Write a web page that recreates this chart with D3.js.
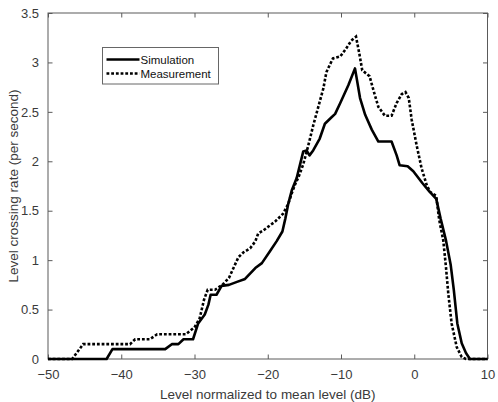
<!DOCTYPE html>
<html>
<head>
<meta charset="utf-8">
<script src="https://cdn.jsdelivr.net/npm/d3@7"></script>
<style>
  html, body { margin: 0; padding: 0; background: #fff; }
  svg { display: block; font-family: "Liberation Sans", Arial, sans-serif; }
</style>
</head>
<body>
<svg id="chart" width="498" height="402"></svg>
<script>
// Level (dB, normalized to mean) and crossing rate (per second)
const simLevel = [-50, -42, -41.2, -34, -33.1, -32.2, -31.5, -30.2, -29.5, -29.0, -28.6, -28.1, -27.8, -27.0,
  -26.3, -25.3, -24.2, -23.1, -21.7, -20.8, -19.7, -18.8, -18.0, -17.6, -17.2, -16.7, -16.05, -15.15, -14.7,
  -14.3, -13.8, -12.9, -12.2, -11.5, -10.8, -10.1, -9.0, -8.09, -7.4, -6.7, -5.8, -4.9, -3.1, -2.4, -2.0,
  -0.9, -0.13, 1.1, 2.0, 3.0, 3.6, 4.33, 4.98, 5.4, 5.88, 6.48, 7.06, 7.6, 10];
const simRate = [0, 0, 0.1, 0.1, 0.15, 0.15, 0.2, 0.2, 0.36, 0.41, 0.45, 0.55, 0.65, 0.65,
  0.74, 0.75, 0.78, 0.81, 0.92, 0.97, 1.09, 1.19, 1.29, 1.42, 1.57, 1.71, 1.83, 2.10, 2.11,
  2.06, 2.11, 2.23, 2.38, 2.43, 2.48, 2.59, 2.77, 2.94, 2.64, 2.47, 2.32, 2.2, 2.2, 2.06, 1.96,
  1.95, 1.9, 1.78, 1.70, 1.62, 1.42, 1.2, 0.95, 0.70, 0.36, 0.16, 0.06, 0, 0];

const measLevel = [-50, -46.7, -45.2, -38.8, -38.1, -36.1, -35.1, -31.2, -30.0, -29.3, -28.7, -28.2, -27.2,
  -26.2, -25.3, -24.5, -24.0, -23.3, -22.4, -21.7, -21.3, -20.6, -19.9, -19.0, -17.9, -17.2, -16.7, -16.3,
  -15.8, -15.15, -14.5, -13.8, -13.1, -12.4, -12.0, -11.5, -11.1, -10.1, -9.3, -8.6, -7.95, -7.5, -7.1,
  -6.1, -5.5, -4.9, -4.0, -3.1, -2.4, -1.7, -1.2, -0.75, -0.35, 0.33, 1.0, 1.7, 2.15, 3.0, 3.4, 3.96,
  4.33, 4.65, 5.1, 5.8, 6.48, 7.06, 10];
const measRate = [0, 0, 0.15, 0.15, 0.2, 0.2, 0.25, 0.25, 0.32, 0.41, 0.6, 0.70, 0.70,
  0.75, 0.82, 0.95, 1.03, 1.08, 1.12, 1.19, 1.27, 1.30, 1.34, 1.39, 1.47, 1.57, 1.68, 1.76,
  1.84, 1.97, 2.15, 2.36, 2.55, 2.74, 2.90, 2.98, 3.04, 3.06, 3.14, 3.22, 3.26, 3.09, 2.92,
  2.86, 2.70, 2.55, 2.46, 2.46, 2.59, 2.68, 2.70, 2.64, 2.42, 2.16, 1.93, 1.76, 1.69, 1.65, 1.41, 1.2,
  0.93, 0.66, 0.36, 0.12, 0.02, 0, 0];

const xTicks = [-50, -40, -30, -20, -10, 0, 10];
const yTicks = [0, 0.5, 1, 1.5, 2, 2.5, 3, 3.5];
const seriesNames = ["Simulation", "Measurement"];

const W = 498, H = 402;
const margin = { left: 48, right: 10.5, top: 13, bottom: 43 };
const svg = d3.select("#chart");

const x = d3.scaleLinear().domain([-50, 10]).range([margin.left, W - margin.right]);
const y = d3.scaleLinear().domain([0, 3.5]).range([H - margin.bottom, margin.top]);

const axisColor = "#5a5a5a";
const textColor = "#3a3a3a";
const tickLen = 4.5;

// axes: ticks point inward on all four sides
function styleAxis(g) {
  g.select(".domain").remove();
  g.selectAll(".tick line").attr("stroke", axisColor);
  g.selectAll(".tick text").attr("fill", textColor).style("font-size", "13px");
}
svg.append("g").attr("transform", `translate(0,${y(0)})`)
  .call(d3.axisBottom(x).tickValues(xTicks).tickSizeInner(-tickLen).tickSizeOuter(0).tickPadding(11).tickFormat(d3.format("d")))
  .call(styleAxis);
svg.append("g").attr("transform", `translate(0,${y(3.5)})`)
  .call(d3.axisTop(x).tickValues(xTicks).tickSizeInner(-tickLen).tickSizeOuter(0).tickFormat(""))
  .call(styleAxis);
svg.append("g").attr("transform", `translate(${x(-50)},0)`)
  .call(d3.axisLeft(y).tickValues(yTicks).tickSizeInner(-tickLen).tickSizeOuter(0).tickPadding(9).tickFormat(d => String(d)))
  .call(styleAxis);
svg.append("g").attr("transform", `translate(${x(10)},0)`)
  .call(d3.axisRight(y).tickValues(yTicks).tickSizeInner(-tickLen).tickSizeOuter(0).tickFormat(""))
  .call(styleAxis);

// plot box
svg.append("rect")
  .attr("x", x(-50)).attr("y", y(3.5))
  .attr("width", x(10) - x(-50)).attr("height", y(0) - y(3.5))
  .attr("fill", "none").attr("stroke", axisColor).attr("stroke-width", 1);

// axis titles
svg.append("text")
  .attr("x", (x(-50) + x(10)) / 2).attr("y", 399)
  .attr("text-anchor", "middle").attr("fill", textColor).style("font-size", "13.5px")
  .text("Level normalized to mean level (dB)");
svg.append("text")
  .attr("transform", `translate(18,${(y(0) + y(3.5)) / 2}) rotate(-90)`)
  .attr("text-anchor", "middle").attr("fill", textColor).style("font-size", "13.5px")
  .text("Level crossing rate (per second)");

// curves
const line = d3.line().x(d => x(d[0])).y(d => y(d[1]));
const simData = d3.zip(simLevel, simRate);
const measData = d3.zip(measLevel, measRate);

svg.append("path").datum(measData)
  .attr("d", line).attr("fill", "none").attr("stroke", "#000")
  .attr("stroke-width", 2.6).attr("stroke-dasharray", "2.8,1.9");
svg.append("path").datum(simData)
  .attr("d", line).attr("fill", "none").attr("stroke", "#000")
  .attr("stroke-width", 2.6).attr("stroke-linejoin", "round");

// legend
const lg = svg.append("g");
lg.append("rect").attr("x", 102.5).attr("y", 47.5).attr("width", 116).attr("height", 36.5)
  .attr("fill", "#fff").attr("stroke", "#666").attr("stroke-width", 1);
const styles = [{ dash: null }, { dash: "2.8,1.9" }];
seriesNames.forEach((name, i) => {
  const ly = 59.5 + i * 14;
  lg.append("line").attr("x1", 106.5).attr("x2", 139.5).attr("y1", ly).attr("y2", ly)
    .attr("stroke", "#000").attr("stroke-width", 2.6)
    .attr("stroke-dasharray", styles[i].dash);
  lg.append("text").attr("x", 140.5).attr("y", ly + 4.2)
    .attr("fill", "#111").style("font-size", "11.5px").text(name);
});
</script>
</body>
</html>
